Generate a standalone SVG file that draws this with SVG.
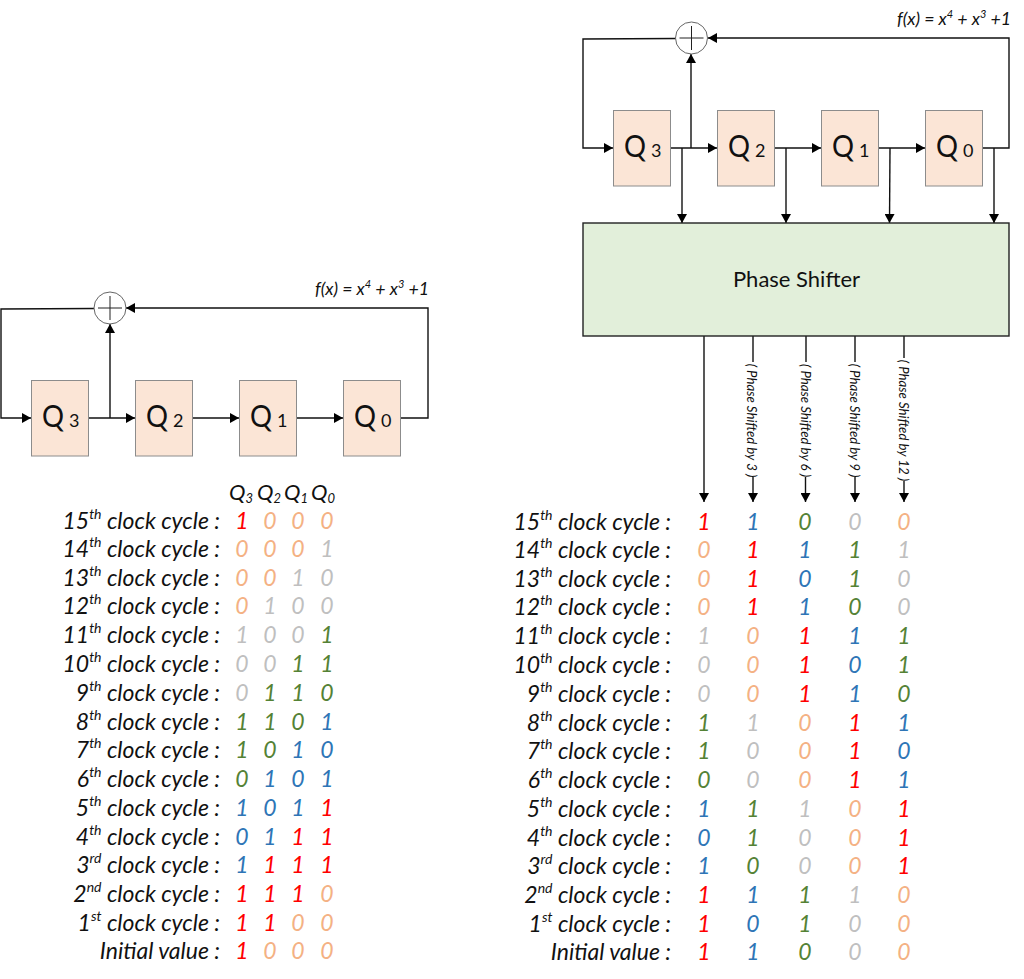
<svg xmlns="http://www.w3.org/2000/svg" width="1024" height="979" viewBox="0 0 1024 979">
<style>
text{font-family:"Lato","Open Sans","Liberation Sans",sans-serif;fill:#111}
.reg{fill:#fbe5d6;stroke:#8c8c8c;stroke-width:1}
.q{font-size:31px}
.n{font-size:18px}
.xor{fill:#fff;stroke:#666;stroke-width:1}
.xp{fill:none;stroke:#222;stroke-width:1}
.c{fill:none;stroke:#111;stroke-width:1.4}
.f{font-size:17.7px;font-style:italic}
.s{font-size:11px}
.l{font-size:23px;font-style:italic;text-anchor:end}
.u{font-size:14px}
.h{font-size:22px;font-style:italic}
.hs{font-size:13px}
.d{font-size:23px;font-style:italic;text-anchor:middle}
.r{fill:#ff0000}.o{fill:#f4b183}.y{fill:#bfbfbf}.g{fill:#548235}.b{fill:#2e75b6}
.ps{font-size:13.2px;font-style:italic;text-anchor:middle}
</style>
<defs>
<marker id="a" markerUnits="userSpaceOnUse" markerWidth="10" markerHeight="10" refX="9" refY="5" orient="auto"><path d="M0 0L9 5L0 10z" fill="#000"/></marker>
</defs>
<g id="connectors">
<path class="c" marker-end="url(#a)" d="M94 308.500L1 309V418H31"/>
<path class="c" marker-end="url(#a)" d="M400 418H428V308H126"/>
<path class="c" marker-end="url(#a)" d="M110 418V324"/>
<path class="c" marker-end="url(#a)" d="M88 418H135"/>
<path class="c" marker-end="url(#a)" d="M192 418H239"/>
<path class="c" marker-end="url(#a)" d="M296 418H343"/>
<path class="c" marker-end="url(#a)" d="M676 38.500L583 39V148H613"/>
<path class="c" marker-end="url(#a)" d="M982 148H1009V38H708"/>
<path class="c" marker-end="url(#a)" d="M691 148V54"/>
<path class="c" marker-end="url(#a)" d="M670 148H717"/>
<path class="c" marker-end="url(#a)" d="M774 148H821"/>
<path class="c" marker-end="url(#a)" d="M878 148H925"/>
<path class="c" marker-end="url(#a)" d="M682 148V223"/>
<path class="c" marker-end="url(#a)" d="M786 148V223"/>
<path class="c" marker-end="url(#a)" d="M890 148L889.500 223"/>
<path class="c" marker-end="url(#a)" d="M994 148V223"/>
<path class="c" marker-end="url(#a)" d="M704 336V502"/>
<path class="c" d="M753 336V362"/><path class="c" marker-end="url(#a)" d="M753 477V502"/>
<path class="c" d="M806 336V362"/><path class="c" marker-end="url(#a)" d="M805.500 477V502"/>
<path class="c" d="M855 336V362"/><path class="c" marker-end="url(#a)" d="M855 477V502"/>
<path class="c" d="M904 336V358"/><path class="c" marker-end="url(#a)" d="M904 481V502"/>
</g>
<g id="xor-left"><circle class="xor" cx="110" cy="308" r="16"/><path class="xp" d="M98 308H122M110 296V320"/></g>
<g id="q3-left"><rect class="reg" x="31.500" y="380.500" width="57" height="75.500"/><text class="q" x="42" y="427" textLength="22" lengthAdjust="spacingAndGlyphs">Q</text><text class="n" x="69" y="427">3</text></g>
<g id="q2-left"><rect class="reg" x="135.500" y="380.500" width="57" height="75.500"/><text class="q" x="146" y="427" textLength="22" lengthAdjust="spacingAndGlyphs">Q</text><text class="n" x="173" y="427">2</text></g>
<g id="q1-left"><rect class="reg" x="239.500" y="380.500" width="57" height="75.500"/><text class="q" x="250" y="427" textLength="22" lengthAdjust="spacingAndGlyphs">Q</text><text class="n" x="277" y="427">1</text></g>
<g id="q0-left"><rect class="reg" x="343.500" y="380.500" width="57" height="75.500"/><text class="q" x="354" y="427" textLength="22" lengthAdjust="spacingAndGlyphs">Q</text><text class="n" x="381" y="427">0</text></g>
<text id="formula-left" class="f" x="315" y="295">f(x) = x<tspan class="s" dy="-7">4</tspan><tspan dy="7"> + x</tspan><tspan class="s" dy="-7">3</tspan><tspan dy="7"> +1</tspan></text>
<g id="xor-right"><circle class="xor" cx="691.500" cy="38" r="16"/><path class="xp" d="M679.500 38H703.500M691.500 26V50"/></g>
<g id="q3-right"><rect class="reg" x="613.500" y="110.500" width="57" height="75.500"/><text class="q" x="624" y="157" textLength="22" lengthAdjust="spacingAndGlyphs">Q</text><text class="n" x="651" y="157">3</text></g>
<g id="q2-right"><rect class="reg" x="717.500" y="110.500" width="57" height="75.500"/><text class="q" x="728" y="157" textLength="22" lengthAdjust="spacingAndGlyphs">Q</text><text class="n" x="755" y="157">2</text></g>
<g id="q1-right"><rect class="reg" x="821.500" y="110.500" width="57" height="75.500"/><text class="q" x="832" y="157" textLength="22" lengthAdjust="spacingAndGlyphs">Q</text><text class="n" x="859" y="157">1</text></g>
<g id="q0-right"><rect class="reg" x="925.500" y="110.500" width="57" height="75.500"/><text class="q" x="936" y="157" textLength="22" lengthAdjust="spacingAndGlyphs">Q</text><text class="n" x="963" y="157">0</text></g>
<g id="phase-shifter"><rect x="583" y="223" width="426" height="113" fill="#e2efda" stroke="#222" stroke-width="1.400"/><text x="796.500" y="287" font-size="22" text-anchor="middle">Phase Shifter</text></g>
<text id="formula-right" class="f" x="897" y="25">f(x) = x<tspan class="s" dy="-7">4</tspan><tspan dy="7"> + x</tspan><tspan class="s" dy="-7">3</tspan><tspan dy="7"> +1</tspan></text>
<g id="shift-labels">
<text class="ps" transform="translate(747,420.500) rotate(90)">( Phase Shifted by 3 )</text>
<text class="ps" transform="translate(801,420.500) rotate(90)">( Phase Shifted by 6 )</text>
<text class="ps" transform="translate(850,420.500) rotate(90)">( Phase Shifted by 9 )</text>
<text class="ps" transform="translate(899,420.500) rotate(90)">( Phase Shifted by 12 )</text>
</g>
<g id="table-left-header">
<text class="h" x="229" y="500">Q<tspan class="hs" dy="3">3</tspan></text>
<text class="h" x="257" y="500">Q<tspan class="hs" dy="3">2</tspan></text>
<text class="h" x="284" y="500">Q<tspan class="hs" dy="3">1</tspan></text>
<text class="h" x="311" y="500">Q<tspan class="hs" dy="3">0</tspan></text>
</g>
<g id="table-left" transform="translate(0,1)">
<text class="l" x="220" y="528">15<tspan class="u" dy="-10">th</tspan><tspan dy="10"> clock cycle :</tspan></text>
<text class="l" x="220" y="556">14<tspan class="u" dy="-10">th</tspan><tspan dy="10"> clock cycle :</tspan></text>
<text class="l" x="220" y="585">13<tspan class="u" dy="-10">th</tspan><tspan dy="10"> clock cycle :</tspan></text>
<text class="l" x="220" y="613">12<tspan class="u" dy="-10">th</tspan><tspan dy="10"> clock cycle :</tspan></text>
<text class="l" x="220" y="642">11<tspan class="u" dy="-10">th</tspan><tspan dy="10"> clock cycle :</tspan></text>
<text class="l" x="220" y="671">10<tspan class="u" dy="-10">th</tspan><tspan dy="10"> clock cycle :</tspan></text>
<text class="l" x="220" y="700">9<tspan class="u" dy="-10">th</tspan><tspan dy="10"> clock cycle :</tspan></text>
<text class="l" x="220" y="729">8<tspan class="u" dy="-10">th</tspan><tspan dy="10"> clock cycle :</tspan></text>
<text class="l" x="220" y="757">7<tspan class="u" dy="-10">th</tspan><tspan dy="10"> clock cycle :</tspan></text>
<text class="l" x="220" y="786">6<tspan class="u" dy="-10">th</tspan><tspan dy="10"> clock cycle :</tspan></text>
<text class="l" x="220" y="815">5<tspan class="u" dy="-10">th</tspan><tspan dy="10"> clock cycle :</tspan></text>
<text class="l" x="220" y="844">4<tspan class="u" dy="-10">th</tspan><tspan dy="10"> clock cycle :</tspan></text>
<text class="l" x="220" y="872">3<tspan class="u" dy="-10">rd</tspan><tspan dy="10"> clock cycle :</tspan></text>
<text class="l" x="220" y="901">2<tspan class="u" dy="-10">nd</tspan><tspan dy="10"> clock cycle :</tspan></text>
<text class="l" x="220" y="930">1<tspan class="u" dy="-10">st</tspan><tspan dy="10"> clock cycle :</tspan></text>
<text class="l" x="220" y="958">Initial value :</text>
<text class="d r" x="242" y="528">1</text><text class="d o" x="270" y="528">0</text><text class="d o" x="298" y="528">0</text><text class="d o" x="327" y="528">0</text>
<text class="d o" x="242" y="556">0</text><text class="d o" x="270" y="556">0</text><text class="d o" x="298" y="556">0</text><text class="d y" x="327" y="556">1</text>
<text class="d o" x="242" y="585">0</text><text class="d o" x="270" y="585">0</text><text class="d y" x="298" y="585">1</text><text class="d y" x="327" y="585">0</text>
<text class="d o" x="242" y="613">0</text><text class="d y" x="270" y="613">1</text><text class="d y" x="298" y="613">0</text><text class="d y" x="327" y="613">0</text>
<text class="d y" x="242" y="642">1</text><text class="d y" x="270" y="642">0</text><text class="d y" x="298" y="642">0</text><text class="d g" x="327" y="642">1</text>
<text class="d y" x="242" y="671">0</text><text class="d y" x="270" y="671">0</text><text class="d g" x="298" y="671">1</text><text class="d g" x="327" y="671">1</text>
<text class="d y" x="242" y="700">0</text><text class="d g" x="270" y="700">1</text><text class="d g" x="298" y="700">1</text><text class="d g" x="327" y="700">0</text>
<text class="d g" x="242" y="729">1</text><text class="d g" x="270" y="729">1</text><text class="d g" x="298" y="729">0</text><text class="d b" x="327" y="729">1</text>
<text class="d g" x="242" y="757">1</text><text class="d g" x="270" y="757">0</text><text class="d b" x="298" y="757">1</text><text class="d b" x="327" y="757">0</text>
<text class="d g" x="242" y="786">0</text><text class="d b" x="270" y="786">1</text><text class="d b" x="298" y="786">0</text><text class="d b" x="327" y="786">1</text>
<text class="d b" x="242" y="815">1</text><text class="d b" x="270" y="815">0</text><text class="d b" x="298" y="815">1</text><text class="d r" x="327" y="815">1</text>
<text class="d b" x="242" y="844">0</text><text class="d b" x="270" y="844">1</text><text class="d r" x="298" y="844">1</text><text class="d r" x="327" y="844">1</text>
<text class="d b" x="242" y="872">1</text><text class="d r" x="270" y="872">1</text><text class="d r" x="298" y="872">1</text><text class="d r" x="327" y="872">1</text>
<text class="d r" x="242" y="901">1</text><text class="d r" x="270" y="901">1</text><text class="d r" x="298" y="901">1</text><text class="d o" x="327" y="901">0</text>
<text class="d r" x="242" y="930">1</text><text class="d r" x="270" y="930">1</text><text class="d o" x="298" y="930">0</text><text class="d o" x="327" y="930">0</text>
<text class="d r" x="242" y="958">1</text><text class="d o" x="270" y="958">0</text><text class="d o" x="298" y="958">0</text><text class="d o" x="327" y="958">0</text>
</g>
<g id="table-right" transform="translate(0,1)">
<text class="l" x="671" y="529">15<tspan class="u" dy="-10">th</tspan><tspan dy="10"> clock cycle :</tspan></text>
<text class="l" x="671" y="557">14<tspan class="u" dy="-10">th</tspan><tspan dy="10"> clock cycle :</tspan></text>
<text class="l" x="671" y="586">13<tspan class="u" dy="-10">th</tspan><tspan dy="10"> clock cycle :</tspan></text>
<text class="l" x="671" y="614">12<tspan class="u" dy="-10">th</tspan><tspan dy="10"> clock cycle :</tspan></text>
<text class="l" x="671" y="643">11<tspan class="u" dy="-10">th</tspan><tspan dy="10"> clock cycle :</tspan></text>
<text class="l" x="671" y="672">10<tspan class="u" dy="-10">th</tspan><tspan dy="10"> clock cycle :</tspan></text>
<text class="l" x="671" y="701">9<tspan class="u" dy="-10">th</tspan><tspan dy="10"> clock cycle :</tspan></text>
<text class="l" x="671" y="730">8<tspan class="u" dy="-10">th</tspan><tspan dy="10"> clock cycle :</tspan></text>
<text class="l" x="671" y="758">7<tspan class="u" dy="-10">th</tspan><tspan dy="10"> clock cycle :</tspan></text>
<text class="l" x="671" y="787">6<tspan class="u" dy="-10">th</tspan><tspan dy="10"> clock cycle :</tspan></text>
<text class="l" x="671" y="816">5<tspan class="u" dy="-10">th</tspan><tspan dy="10"> clock cycle :</tspan></text>
<text class="l" x="671" y="845">4<tspan class="u" dy="-10">th</tspan><tspan dy="10"> clock cycle :</tspan></text>
<text class="l" x="671" y="873">3<tspan class="u" dy="-10">rd</tspan><tspan dy="10"> clock cycle :</tspan></text>
<text class="l" x="671" y="902">2<tspan class="u" dy="-10">nd</tspan><tspan dy="10"> clock cycle :</tspan></text>
<text class="l" x="671" y="931">1<tspan class="u" dy="-10">st</tspan><tspan dy="10"> clock cycle :</tspan></text>
<text class="l" x="671" y="959">Initial value :</text>
<text class="d r" x="704" y="529">1</text><text class="d b" x="753" y="529">1</text><text class="d g" x="805" y="529">0</text><text class="d y" x="855" y="529">0</text><text class="d o" x="904" y="529">0</text>
<text class="d o" x="704" y="557">0</text><text class="d r" x="753" y="557">1</text><text class="d b" x="805" y="557">1</text><text class="d g" x="855" y="557">1</text><text class="d y" x="904" y="557">1</text>
<text class="d o" x="704" y="586">0</text><text class="d r" x="753" y="586">1</text><text class="d b" x="805" y="586">0</text><text class="d g" x="855" y="586">1</text><text class="d y" x="904" y="586">0</text>
<text class="d o" x="704" y="614">0</text><text class="d r" x="753" y="614">1</text><text class="d b" x="805" y="614">1</text><text class="d g" x="855" y="614">0</text><text class="d y" x="904" y="614">0</text>
<text class="d y" x="704" y="643">1</text><text class="d o" x="753" y="643">0</text><text class="d r" x="805" y="643">1</text><text class="d b" x="855" y="643">1</text><text class="d g" x="904" y="643">1</text>
<text class="d y" x="704" y="672">0</text><text class="d o" x="753" y="672">0</text><text class="d r" x="805" y="672">1</text><text class="d b" x="855" y="672">0</text><text class="d g" x="904" y="672">1</text>
<text class="d y" x="704" y="701">0</text><text class="d o" x="753" y="701">0</text><text class="d r" x="805" y="701">1</text><text class="d b" x="855" y="701">1</text><text class="d g" x="904" y="701">0</text>
<text class="d g" x="704" y="730">1</text><text class="d y" x="753" y="730">1</text><text class="d o" x="805" y="730">0</text><text class="d r" x="855" y="730">1</text><text class="d b" x="904" y="730">1</text>
<text class="d g" x="704" y="758">1</text><text class="d y" x="753" y="758">0</text><text class="d o" x="805" y="758">0</text><text class="d r" x="855" y="758">1</text><text class="d b" x="904" y="758">0</text>
<text class="d g" x="704" y="787">0</text><text class="d y" x="753" y="787">0</text><text class="d o" x="805" y="787">0</text><text class="d r" x="855" y="787">1</text><text class="d b" x="904" y="787">1</text>
<text class="d b" x="704" y="816">1</text><text class="d g" x="753" y="816">1</text><text class="d y" x="805" y="816">1</text><text class="d o" x="855" y="816">0</text><text class="d r" x="904" y="816">1</text>
<text class="d b" x="704" y="845">0</text><text class="d g" x="753" y="845">1</text><text class="d y" x="805" y="845">0</text><text class="d o" x="855" y="845">0</text><text class="d r" x="904" y="845">1</text>
<text class="d b" x="704" y="873">1</text><text class="d g" x="753" y="873">0</text><text class="d y" x="805" y="873">0</text><text class="d o" x="855" y="873">0</text><text class="d r" x="904" y="873">1</text>
<text class="d r" x="704" y="902">1</text><text class="d b" x="753" y="902">1</text><text class="d g" x="805" y="902">1</text><text class="d y" x="855" y="902">1</text><text class="d o" x="904" y="902">0</text>
<text class="d r" x="704" y="931">1</text><text class="d b" x="753" y="931">0</text><text class="d g" x="805" y="931">1</text><text class="d y" x="855" y="931">0</text><text class="d o" x="904" y="931">0</text>
<text class="d r" x="704" y="959">1</text><text class="d b" x="753" y="959">1</text><text class="d g" x="805" y="959">0</text><text class="d y" x="855" y="959">0</text><text class="d o" x="904" y="959">0</text>
</g>
</svg>
